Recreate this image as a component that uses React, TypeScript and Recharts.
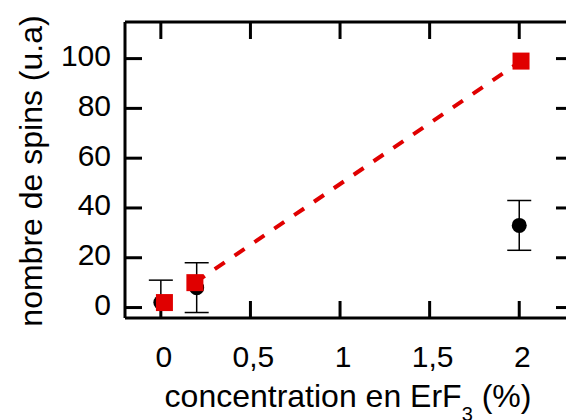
import React from 'react';
import { ScatterChart, Scatter, XAxis, YAxis, ErrorBar, Label } from 'recharts';

// concentration (%) and spin counts
const blackX = [0, 0.2, 2];
const blackY = [2, 8, 33];
const blackErr = [9, 10, 10];

const redX = [0.02, 0.19, 2.01];
const redY = [2, 10, 99];

const xTicks = [0, 0.5, 1, 1.5, 2];
const yTicks = [0, 20, 40, 60, 80, 100];

const RED = '#e00000';
const FONT = '"Liberation Sans", Arial, sans-serif';

// plot box (the right side of the frame sits just past the picture edge)
const W = 588;
const H = 420;
const M = { top: 21, right: 14, bottom: 0, left: 0 };
const Y_AXIS_W = 125;
const X_AXIS_H = 102;
const FRAME_AXIS = 1; // top / right axes only carry inward ticks

const blackData = blackX.map((x, i) => ({ x, y: blackY[i], err: blackErr[i] }));
const redData = redX.map((x, i) => ({ x, y: redY[i] }));
// dashed trend drawn between the two doped samples
const fitData = redData.slice(1);

const fmt = (v: number) => String(v).replace('.', ',');

const XTick = ({ x, y, payload }: any) => (
    <text x={x + 3} y={y + 66} textAnchor="middle" fontSize={30} fontFamily={FONT} fill="#000">
        {fmt(payload.value)}
    </text>
);

const YTick = ({ x, y, payload }: any) => (
    <text x={x - 31} y={y + 7.5} textAnchor="end" fontSize={30} fontFamily={FONT} fill="#000">
        {payload.value}
    </text>
);

const NoLabel = () => <g />;

const Circle = ({ cx, cy }: any) => <circle cx={cx} cy={cy} r={7.5} fill="#000" />;
const Square = ({ cx, cy }: any) => <rect x={cx - 8.5} y={cy - 8.5} width={17} height={17} fill={RED} />;
const Nothing = () => <g />;

const XTitle = ({ viewBox }: any) => {
    const vb = viewBox || { x: Y_AXIS_W, y: H - X_AXIS_H, width: 448, height: X_AXIS_H };
    return (
        <text x={vb.x + vb.width / 2 - 1} y={vb.y + 89} textAnchor="middle" fontSize={32} fontFamily={FONT} fill="#000">
            concentration en ErF
            <tspan fontSize={20} dy={14}>3</tspan>
            <tspan dy={-14}> (%)</tspan>
        </text>
    );
};

const YTitle = ({ viewBox }: any) => {
    const vb = viewBox || { x: 0, y: M.top + FRAME_AXIS, width: Y_AXIS_W, height: 296 };
    const cy = vb.y + vb.height / 2 + 1;
    return (
        <text
            transform={`translate(${vb.x + 42}, ${cy}) rotate(-90)`}
            textAnchor="middle"
            fontSize={32}
            fontFamily={FONT}
            fill="#000"
        >
            nombre de spins (u.a)
        </text>
    );
};

const axisLine = { stroke: '#000', strokeWidth: 3 };
const tickLine = { stroke: '#000', strokeWidth: 3 };

export default function App() {
    const plotX = M.left + Y_AXIS_W;
    const plotY = M.top + FRAME_AXIS;
    const plotW = W - M.right - FRAME_AXIS - plotX;
    const plotH = H - M.bottom - X_AXIS_H - plotY;
    return (
        <div style={{ position: 'relative', width: 566, height: 420, overflow: 'hidden', background: '#fff' }}>
            <style>{'body{margin:0;} .recharts-errorBars{clip-path:url(#plotClip);}'}</style>
            <svg width={0} height={0} style={{ position: 'absolute', left: 0, top: 0 }}>
                <defs>
                    <clipPath id="plotClip" clipPathUnits="userSpaceOnUse">
                        <rect x={plotX} y={plotY} width={plotW} height={plotH} />
                    </clipPath>
                </defs>
            </svg>
            <ScatterChart width={W} height={H} margin={M}>
                <XAxis
                    xAxisId="b"
                    type="number"
                    dataKey="x"
                    domain={[-0.2, 2.3]}
                    ticks={xTicks}
                    interval={0}
                    allowDataOverflow
                    height={X_AXIS_H}
                    tickSize={-17}
                    tickMargin={0}
                    axisLine={axisLine}
                    tickLine={tickLine}
                    tick={<XTick />}
                >
                    <Label content={<XTitle />} />
                </XAxis>
                <XAxis
                    xAxisId="t"
                    orientation="top"
                    type="number"
                    dataKey="x"
                    domain={[-0.2, 2.3]}
                    ticks={xTicks}
                    interval={0}
                    allowDataOverflow
                    height={FRAME_AXIS}
                    tickSize={-17}
                    tickMargin={0}
                    axisLine={axisLine}
                    tickLine={tickLine}
                    tick={<NoLabel />}
                />
                <YAxis
                    yAxisId="l"
                    type="number"
                    dataKey="y"
                    domain={[-4.2, 114.7]}
                    ticks={yTicks}
                    interval={0}
                    allowDataOverflow
                    width={Y_AXIS_W}
                    tickSize={-17}
                    tickMargin={0}
                    axisLine={axisLine}
                    tickLine={tickLine}
                    tick={<YTick />}
                >
                    <Label content={<YTitle />} />
                </YAxis>
                <YAxis
                    yAxisId="r"
                    orientation="right"
                    type="number"
                    dataKey="y"
                    domain={[-4.2, 114.7]}
                    ticks={yTicks}
                    interval={0}
                    allowDataOverflow
                    width={FRAME_AXIS}
                    tickSize={-17}
                    tickMargin={0}
                    axisLine={axisLine}
                    tickLine={tickLine}
                    tick={<NoLabel />}
                />
                <Scatter xAxisId="b" yAxisId="l" data={blackData} shape={<Circle />} isAnimationActive={false}>
                    <ErrorBar dataKey="err" direction="y" width={12} stroke="#000" strokeWidth={1.5} isAnimationActive={false} />
                </Scatter>
                <Scatter
                    xAxisId="b"
                    yAxisId="l"
                    data={fitData}
                    shape={<Nothing />}
                    line={{ stroke: RED, strokeWidth: 4, strokeDasharray: '12 12' }}
                    isAnimationActive={false}
                />
                <Scatter xAxisId="b" yAxisId="l" data={redData} shape={<Square />} isAnimationActive={false} />
                <Scatter xAxisId="t" yAxisId="r" data={redData} shape={<Nothing />} isAnimationActive={false} />
            </ScatterChart>
        </div>
    );
}
